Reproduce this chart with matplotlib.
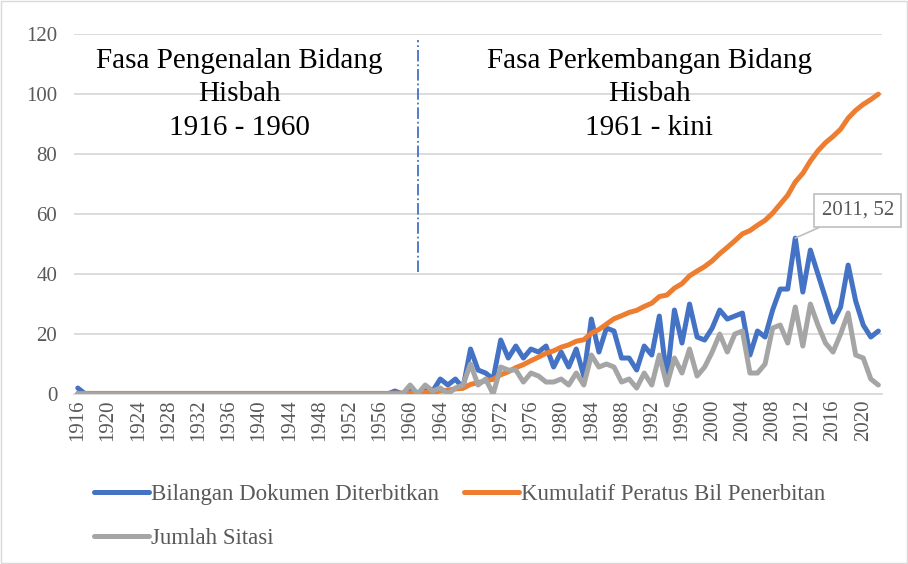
import matplotlib.pyplot as plt
from matplotlib.patches import Rectangle

# Data
years = list(range(1916, 2023))

bilangan_dokumen = [
    2, 0, 0, 0, 0, 0, 0, 0, 0, 0,
    0, 0, 0, 0, 0, 0, 0, 0, 0, 0,
    0, 0, 0, 0, 0, 0, 0, 0, 0, 0,
    0, 0, 0, 0, 0, 0, 0, 0, 0, 0,
    0, 0, 1, 0, 1, 0, 2, 1, 5, 3,
    5, 2, 15, 8, 7, 5, 18, 12, 16, 12,
    15, 14, 16, 9, 14, 9, 15, 6, 25, 14,
    22, 21, 12, 12, 8, 16, 13, 26, 5, 28,
    17, 30, 19, 18, 22, 28, 25, 26, 27, 13,
    21, 19, 28, 35, 35, 52, 34, 48, 40, 32,
    24, 29, 43, 31, 23, 19, 21,
]

kumulatif_peratus = [
    0.2, 0.2, 0.2, 0.2, 0.2, 0.2, 0.2, 0.2, 0.2, 0.2,
    0.2, 0.2, 0.2, 0.2, 0.2, 0.2, 0.2, 0.2, 0.2, 0.2,
    0.2, 0.2, 0.2, 0.2, 0.2, 0.2, 0.2, 0.2, 0.2, 0.2,
    0.2, 0.2, 0.2, 0.2, 0.2, 0.2, 0.2, 0.2, 0.2, 0.2,
    0.2, 0.2, 0.3, 0.3, 0.3, 0.3, 0.5, 0.6, 1.0, 1.3,
    1.7, 1.9, 3.2, 3.8, 4.4, 4.9, 6.4, 7.4, 8.8, 9.8,
    11.1, 12.3, 13.6, 14.4, 15.6, 16.4, 17.6, 18.1, 20.3, 21.5,
    23.3, 25.1, 26.1, 27.2, 27.9, 29.2, 30.3, 32.5, 33.0, 35.3,
    36.8, 39.4, 41.0, 42.5, 44.4, 46.8, 48.9, 51.1, 53.4, 54.5,
    56.3, 57.9, 60.3, 63.3, 66.3, 70.7, 73.6, 77.7, 81.1, 83.8,
    85.9, 88.3, 92.0, 94.6, 96.6, 98.2, 100.0,
]

jumlah_sitasi = [
    0, 0, 0, 0, 0, 0, 0, 0, 0, 0,
    0, 0, 0, 0, 0, 0, 0, 0, 0, 0,
    0, 0, 0, 0, 0, 0, 0, 0, 0, 0,
    0, 0, 0, 0, 0, 0, 0, 0, 0, 0,
    0, 0, 0, 0, 3, 0, 3, 1, 2, 0,
    2, 3, 10, 3, 5, 0, 9, 8, 8, 4,
    7, 6, 4, 4, 5, 3, 7, 3, 13, 9,
    10, 9, 4, 5, 2, 7, 3, 13, 3, 12,
    7, 15, 6, 9, 14, 20, 14, 20, 21, 7,
    7, 10, 22, 23, 17, 29, 16, 30, 23, 17,
    14, 20, 27, 13, 12, 5, 3,
]

tick_years = years[::4]
y_ticks = [0, 20, 40, 60, 80, 100, 120]

phase_split = 1961
peak_year = 2011
peak_value = 52

series_labels = ['Bilangan Dokumen Diterbitkan', 'Kumulatif Peratus Bil Penerbitan', 'Jumlah Sitasi']
colors = ['#4472C4', '#ED7D31', '#A5A5A5']

# Styling
plt.rcParams['font.family'] = ['Liberation Serif', 'DejaVu Serif']
text_grey = '#595959'
grid_grey = '#D9D9D9'

fig = plt.figure(figsize=(9.08, 5.64), dpi=100)
ax = fig.add_axes([0.0815, 0.3014, 0.890, 0.638])

lines = []
for values, color, label in zip([bilangan_dokumen, kumulatif_peratus, jumlah_sitasi], colors, series_labels):
    ln, = ax.plot(years, values, color=color, lw=3.6, label=label,
                  solid_joinstyle='round', solid_capstyle='round', zorder=3)
    lines.append(ln)

ax.set_xlim(years[0] - 0.5, years[-1] + 0.5)
ax.set_ylim(0, 120)

ax.set_yticks(y_ticks)
ax.set_xticks(tick_years)
ax.set_xticklabels([str(y) for y in tick_years], rotation=90)
ax.tick_params(axis='y', length=0, pad=12, labelsize=15, labelcolor=text_grey)
ax.tick_params(axis='x', length=0, pad=4, labelsize=15, labelcolor=text_grey)

ax.grid(axis='y', color=grid_grey, lw=1.3, zorder=0)
ax.set_axisbelow(True)
for side in ['top', 'right', 'left']:
    ax.spines[side].set_visible(False)
ax.spines['bottom'].set_color(grid_grey)
ax.spines['bottom'].set_linewidth(1.3)

# Phase divider and phase labels
ax.axvline(phase_split, ymin=0.34, ymax=0.985, color='#4472C4', lw=1.3, ls='-.', zorder=2)
ax.text(0.205, 0.962, 'Fasa Pengenalan Bidang\nHisbah\n1916 - 1960', transform=ax.transAxes,
        ha='center', va='top', fontsize=21, color='black', linespacing=1.38)
ax.text(0.712, 0.962, 'Fasa Perkembangan Bidang\nHisbah\n1961 - kini', transform=ax.transAxes,
        ha='center', va='top', fontsize=21, color='black', linespacing=1.38)

# Data callout for the peak
ax.annotate(f'{peak_year}, {peak_value}', xy=(peak_year, peak_value), xytext=(45, 20),
            textcoords='offset points', ha='center', va='center', fontsize=15, color=text_grey,
            bbox=dict(boxstyle='square,pad=0.35', fc='white', ec='#BFBFBF', lw=1.2),
            arrowprops=dict(arrowstyle='-', color='#BFBFBF', lw=1.2, shrinkA=0, shrinkB=0),
            annotation_clip=False, zorder=5)

# Legend: row-major order -> blue, orange on first row, grey on second
leg_order = [lines[0], lines[2], lines[1]]
leg = fig.legend(handles=leg_order, loc='upper left', bbox_to_anchor=(0.103, 0.142), ncol=2,
                 frameon=False, fontsize=16.5, handlelength=2.4, handletextpad=0.1,
                 columnspacing=1.1, labelspacing=1.0, borderaxespad=0, borderpad=0)
for t in leg.get_texts():
    t.set_color(text_grey)

# Chart area border
fig.patches.append(Rectangle((0.001, 0.001), 0.998, 0.997, transform=fig.transFigure,
                             fill=False, ec=grid_grey, lw=1.0))

plt.savefig('out.png', dpi=100)
